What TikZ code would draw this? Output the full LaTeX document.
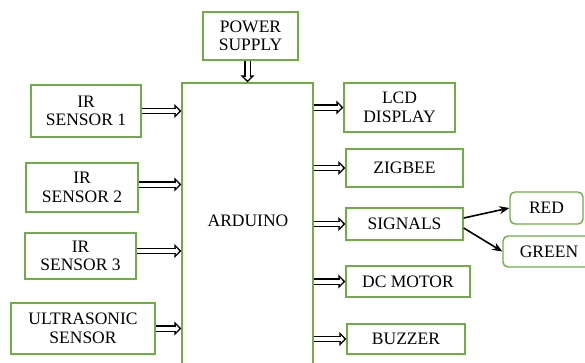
\documentclass[tikz,border=0pt]{standalone}
\usepackage{fontspec}
\setmainfont{Liberation Serif}
\usetikzlibrary{arrows.meta}
\definecolor{boxgreen}{RGB}{112,173,71}

\tikzset{every node/.style={draw=boxgreen, line width=1.4pt, align=center, inner sep=1pt,
    font=\fontsize{17.5}{18.5}\selectfont},
  dbl/.style={draw=white, line width=4pt,
    -{Triangle[open, fill=white, color=black, length=7pt, width=14pt, line width=1.3pt]},
    postaction={draw=black, double=white, double distance=4pt, line width=1.3pt, shorten >=5.5pt, -}},
  link/.style={line width=1.6pt, -{Stealth[length=10pt, width=8pt]}}}

\begin{document}
\begin{tikzpicture}[x=1pt, y=-1pt]
  \clip (0,0) rectangle (585,362);
  % controller and supply
  \node[minimum width=131pt, minimum height=337pt] (ard) at (247.5,251.5) {};
  \node[draw=none] (ardtext) at (248,221) {ARDUINO};
  \node[minimum width=95pt, minimum height=48pt] (psu) at (250.5,36) {POWER\\SUPPLY};
  % inputs
  \node[minimum width=110pt, minimum height=52pt] (ir1) at (86,111) {IR\\SENSOR 1};
  \node[minimum width=112pt, minimum height=49pt] (ir2) at (82,187.5) {IR\\SENSOR 2};
  \node[minimum width=111pt, minimum height=46pt] (ir3) at (80.5,256) {IR\\SENSOR 3};
  \node[minimum width=144pt, minimum height=51pt] (ultra) at (83,328.5) {ULTRASONIC\\SENSOR};
  % outputs
  \node[minimum width=111pt, minimum height=49pt] (lcd) at (399.5,107.5) {LCD\\DISPLAY};
  \node[minimum width=117pt, minimum height=38pt] (zig) at (404.5,168) {ZIGBEE};
  \node[minimum width=117pt, minimum height=32pt] (sig) at (404.5,224) {SIGNALS};
  \node[minimum width=124pt, minimum height=31pt] (dcm) at (408,281.5) {DC MOTOR};
  \node[minimum width=118pt, minimum height=30pt] (buz) at (406,339) {BUZZER};
  \node[rounded corners=5pt, minimum width=73pt, minimum height=32pt] (red) at (546.5,208) {RED};
  \node[rounded corners=5pt, minimum width=92pt, minimum height=31pt] (green) at (549,251.5) {GREEN};
  % hollow arrows into the board
  \draw[dbl] (psu.south -| ard.north) -- (ard.north);
  \draw[dbl] (ir1) -- (ir1 -| ard.west);
  \draw[dbl] ([yshift=3pt]ir2.east) -- ([yshift=3pt]ir2.east -| ard.west);
  \draw[dbl] ([yshift=5pt]ir3.east) -- ([yshift=5pt]ir3.east -| ard.west);
  \draw[dbl] (ultra) -- (ultra -| ard.west);
  % hollow arrows out of the board
  \draw[dbl] (lcd -| ard.east) -- (lcd);
  \draw[dbl] (zig -| ard.east) -- (zig);
  \draw[dbl] (sig -| ard.east) -- (sig);
  \draw[dbl] (dcm -| ard.east) -- (dcm);
  \draw[dbl] (buz -| ard.east) -- (buz);
  % signal lamps
  \draw[link] ([yshift=6pt]sig.east) -- (red.west);
  \draw[link] ([yshift=-4pt]sig.east) -- (green.west);
\end{tikzpicture}
\end{document}
